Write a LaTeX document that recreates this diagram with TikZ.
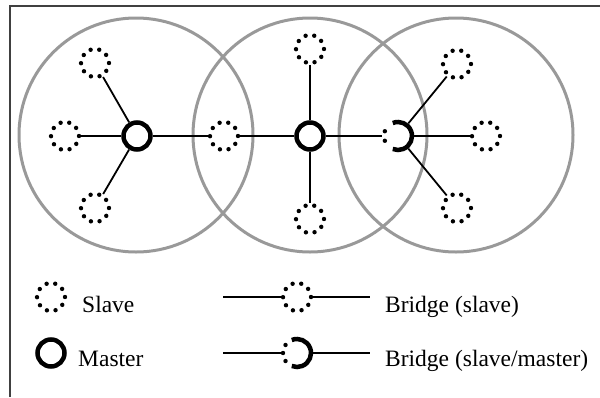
\documentclass[tikz,border=0pt]{standalone}
\usepackage{fontspec}
\setmainfont{Liberation Serif}
\begin{document}
\begin{tikzpicture}[x=1pt,y=-1pt,
  zone/.style={draw=black!40, line width=3pt},
  slave/.style={circle, minimum size=28pt, inner sep=0pt, draw, line width=4.4pt,
    dash pattern=on 0pt off 8.796pt, line cap=round},
  master/.style={circle, minimum size=27pt, inner sep=0pt, draw, line width=4.5pt},
  bridgenode/.style={circle, minimum size=28pt, inner sep=0pt, outer sep=2.2pt},
  link/.style={line width=1.8pt},
  label/.style={anchor=base west, inner sep=0pt, font=\fontsize{23.5}{28}\selectfont}]
\newcommand\halfmaster[2]{%
  \draw[line width=4.5pt] ([shift={(112:14pt)}]#1.center) arc[start angle=112, end angle=-112, radius=14pt];
  \foreach \a in {#2} \fill ([shift={(\a:14pt)}]#1.center) circle[radius=2.2pt];}
\useasboundingbox (0,0) rectangle (600,397);
% frame
\draw[black!75, line width=1.3pt] (10,397) -- (10,6) -- (600,6);
% radio ranges of the three piconets
\draw[zone] (136,135) circle[radius=117];
\draw[zone] (310,135) circle[radius=117];
\draw[zone] (456,135) circle[radius=117];
% devices
\node[master] (m1) at (137,136) {};
\node[slave] (s1) at (95,63) {};
\node[slave] (s2) at (65,136) {};
\node[slave] (s3) at (95,208) {};
\node[slave] (b1) at (224,136) {};
\node[master] (m2) at (310,136) {};
\node[slave] (s4) at (310,49) {};
\node[slave] (s5) at (310,219) {};
\node[bridgenode] (b2) at (398,136) {};
\halfmaster{b2}{160,200}
\node[slave] (s6) at (457,64) {};
\node[slave] (s7) at (486,136) {};
\node[slave] (s8) at (457,208) {};
% links
\draw[link] (m1) -- (s1);
\draw[link] (m1) -- (s2);
\draw[link] (m1) -- (s3);
\draw[link] (m1) -- (b1);
\draw[link] (b1) -- (m2);
\draw[link] (m2) -- (s4);
\draw[link] (m2) -- (s5);
\draw[link] (m2) -- (b2);
\draw[link] (b2) -- (s6);
\draw[link] (b2) -- (s7);
\draw[link] (b2) -- (s8);
% legend
\node[slave] (ls) at (51,297) {};
\node[label] (lst) at (82,312) {Slave};
\node[master] (lm) at (51,353) {};
\node[label] (lmt) at (78,366) {Master};
\coordinate (la1) at (223,297);
\coordinate (la2) at (370,297);
\node[slave] (lb1) at (297,297) {};
\draw[link] (la1) -- (lb1);
\draw[link] (lb1) -- (la2);
\node[label] (lbt1) at (385,312) {Bridge (slave)};
\coordinate (lc1) at (223,353);
\coordinate (lc2) at (370,353);
\node[bridgenode] (lb2) at (297,353) {};
\halfmaster{lb2}{145,180,215}
\draw[link] (lc1) -- (lb2);
\draw[link] (lb2) -- (lc2);
\node[label] (lbt2) at (385,366) {Bridge (slave/master)};
\end{tikzpicture}
\end{document}
